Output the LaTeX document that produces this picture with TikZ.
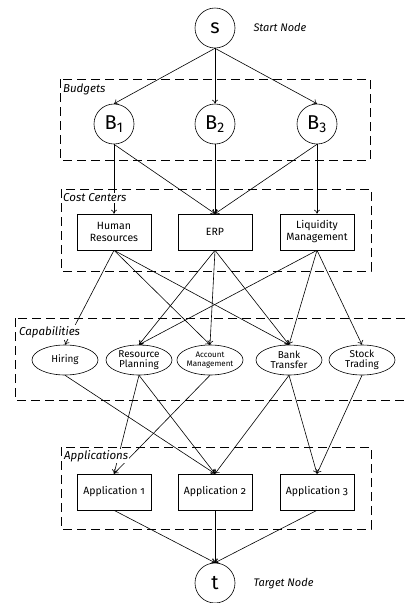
\documentclass[tikz,border=0pt]{standalone}
\usepackage{fontspec}
\setmainfont{Fira Sans}[Numbers=OldStyle]
\usetikzlibrary{shapes.geometric,arrows.meta}
\newcommand{\lin}[1]{\textsubscript{\addfontfeature{Numbers=Lining}#1}}
\begin{document}
\begin{tikzpicture}[x=1pt,y=-1pt,
  term/.style={circle,draw,line width=0.6pt,minimum size=40pt,inner sep=0pt,font=\fontsize{20}{22}\selectfont},
  unit/.style={rectangle,draw,line width=0.6pt,minimum width=74pt,minimum height=36pt,inner sep=1pt,align=center,font=\fontsize{10.5}{12}\selectfont},
  capnode/.style={ellipse,draw,line width=0.6pt,minimum width=66pt,minimum height=30pt,inner sep=0pt,align=center,font=\fontsize{10}{10}\selectfont},
  group/.style={draw,dash pattern=on 9pt off 5pt,line width=0.6pt},
  grouplabel/.style={anchor=west,fill=white,inner sep=1pt,font=\itshape\fontsize{11.5}{12}\selectfont},
  note/.style={anchor=west,font=\itshape\fontsize{11}{12}\selectfont},
  link/.style={-{To[length=4pt,width=6pt]},line width=0.6pt}]
\useasboundingbox (0,0) rectangle (409,603);

% layer groups
\draw[group] (60,79) rectangle (370,160);
\draw[group] (61,189) rectangle (371,271);
\draw[group] (15,318) rectangle (415,400);
\draw[group] (61,447) rectangle (371,529);

% start and target
\node[term] (s) at (215,28) {s};
\node[note] (sn) at (250,27) {Start Node};
\node[term] (t) at (215,583) {t};
\node[note] (tn) at (250,584) {Target Node};

% budgets
\node[term] (b1) at (114,124) {B\lin{1}};
\node[term] (b2) at (215,124) {B\lin{2}};
\node[term] (b3) at (317,124) {B\lin{3}};

% cost centers
\node[unit] (hr) at (114,232) {Human\\Resources};
\node[unit] (erp) at (215,232) {ERP};
\node[unit] (lm) at (317,232) {Liquidity\\Management};

% capabilities
\node[capnode] (hir) at (65,360) {Hiring};
\node[capnode] (rp) at (139,360) {Resource\\Planning};
\node[capnode,font=\fontsize{8}{9}\selectfont] (am) at (210,360) {Account\\Management};
\node[capnode] (bt) at (289,360) {Bank\\Transfer};
\node[capnode] (st) at (362,360) {Stock\\Trading};

% applications
\node[unit] (a1) at (114,492) {Application 1};
\node[unit] (a2) at (215,492) {Application 2};
\node[unit] (a3) at (317,492) {Application 3};

% connectors
\foreach \u/\v in {s/b1,s/b2,s/b3,
  b1/hr,b1/erp,b2/erp,b3/erp,b3/lm,
  hr/hir,hr/am,hr/bt,erp/rp,erp/am,erp/bt,lm/rp,lm/bt,lm/st,
  hir/a2,rp/a1,rp/a2,am/a1,bt/a2,bt/a3,st/a3,
  a1/t,a2/t,a3/t}
  \draw[link] (\u.south) -- (\v.north);

% group labels
\node[grouplabel] (lb) at (62,89) {Budgets};
\node[grouplabel] (lc) at (62,198) {Cost Centers};
\node[grouplabel] (lp) at (18,332) {Capabilities};
\node[grouplabel] (la) at (63,456) {Applications};
\end{tikzpicture}
\end{document}
